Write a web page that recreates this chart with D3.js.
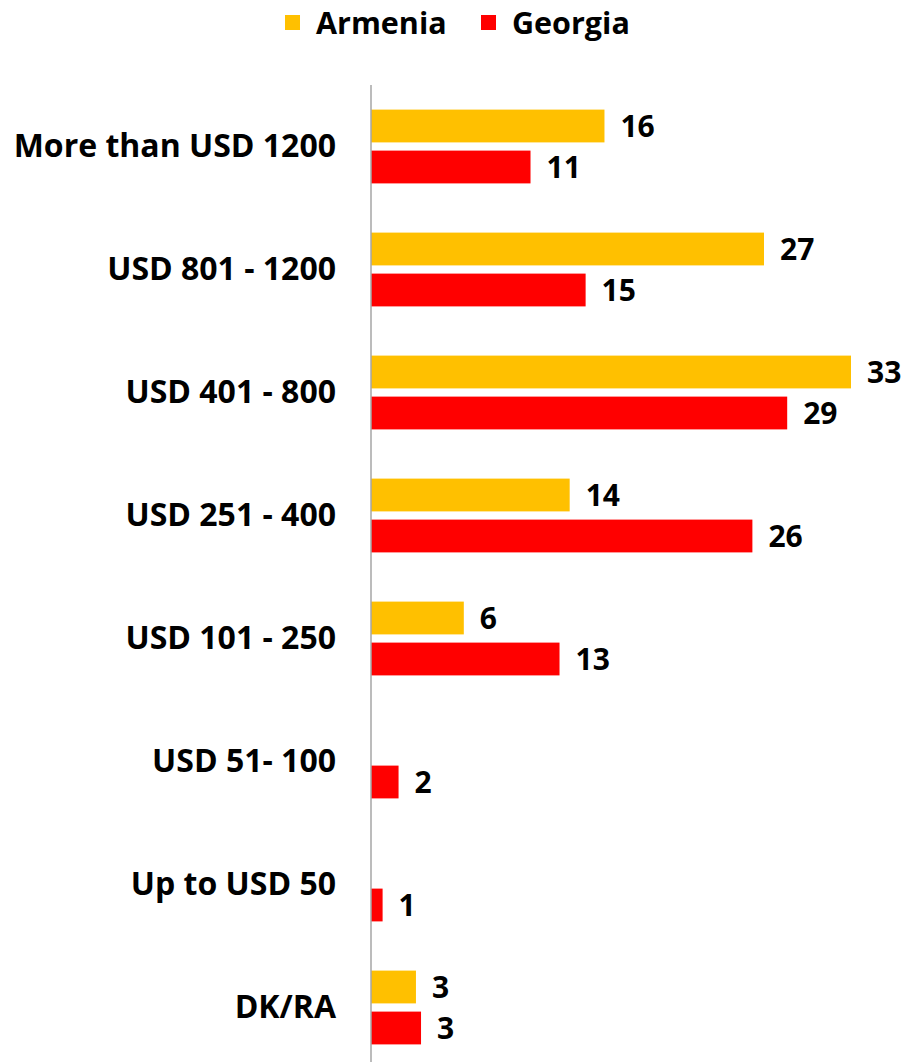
<!DOCTYPE html>
<html lang="en">
<head>
    <meta charset="UTF-8">
    <title>Income distribution, Armenia and Georgia</title>
    <script src="https://d3js.org/d3.v7.min.js"></script>
    <style>
        body {
            margin: 0;
            padding: 0;
            background: #fff;
            font-family: "Open Sans", Arial, sans-serif;
        }
        svg text {
            font-weight: bold;
            fill: #000;
        }
    </style>
</head>
<body>
    <svg id="chart"></svg>

    <script>
        // Data (bar lengths, labels are rounded)
        const categories = ["More than USD 1200", "USD 801 - 1200", "USD 401 - 800", "USD 251 - 400",
            "USD 101 - 250", "USD 51- 100", "Up to USD 50", "DK/RA"];
        const series = ["Armenia", "Georgia"];
        const armenia = [16.1, 27.1, 33.1, 13.7, 6.4, null, null, 3.1];
        const georgia = [11.0, 14.8, 28.7, 26.3, 13.0, 1.9, 0.8, 3.45];

        const colors = { "Armenia": "#ffc000", "Georgia": "#ff0000" };

        const W = 903, H = 1062;
        const axisX = 371;

        const svg = d3.select("#chart")
            .attr("width", W)
            .attr("height", H);

        // Scales
        const x = d3.scaleLinear()
            .domain([0, 33.1])
            .range([axisX, 851]);

        const y0 = d3.scaleBand()
            .domain(categories)
            .range([85, 1069])
            .paddingInner(0.4)
            .paddingOuter(0.2);

        const y1 = d3.scaleBand()
            .domain(series)
            .range([0, y0.bandwidth()])
            .paddingInner(0.2)
            .paddingOuter(0);

        const rows = categories.map((c, i) => ({
            cat: c,
            values: [
                { key: "Armenia", value: armenia[i] },
                { key: "Georgia", value: georgia[i] }
            ].filter(d => d.value != null)
        }));

        // Bars
        const groups = svg.selectAll(".group")
            .data(rows)
            .enter()
            .append("g")
            .attr("class", "group")
            .attr("transform", d => `translate(0,${y0(d.cat)})`);

        groups.selectAll("rect")
            .data(d => d.values)
            .enter()
            .append("rect")
            .attr("x", x(0))
            .attr("y", d => y1(d.key))
            .attr("width", d => x(d.value) - x(0))
            .attr("height", y1.bandwidth())
            .attr("fill", d => colors[d.key]);

        groups.selectAll(".val")
            .data(d => d.values)
            .enter()
            .append("text")
            .attr("class", "val")
            .attr("x", d => x(d.value) + 16)
            .attr("y", d => y1(d.key) + y1.bandwidth() / 2)
            .attr("dy", "0.36em")
            .style("font-size", "30px")
            .text(d => Math.round(d.value));

        // Category axis
        const yAxis = svg.append("g")
            .attr("transform", `translate(${axisX},0)`)
            .call(d3.axisLeft(y0).tickSize(0).tickPadding(35));
        yAxis.select(".domain").remove();
        yAxis.selectAll("text")
            .style("font-family", "'Open Sans', Arial, sans-serif")
            .style("font-size", "32px")
            .style("font-weight", "bold")
            .attr("fill", "#000");

        svg.append("line")
            .attr("x1", axisX).attr("x2", axisX)
            .attr("y1", 85).attr("y2", H)
            .attr("stroke", "#a6a6a6")
            .attr("stroke-width", 1.5);

        // Legend
        const legend = svg.append("g").attr("class", "legend");
        const legendX = [285, 481];
        series.forEach((s, i) => {
            legend.append("rect")
                .attr("x", legendX[i])
                .attr("y", 15)
                .attr("width", 15)
                .attr("height", 15)
                .attr("fill", colors[s]);
            legend.append("text")
                .attr("x", legendX[i] + 31)
                .attr("y", 23)
                .attr("dy", "0.36em")
                .style("font-size", "30.5px")
                .text(s);
        });
    </script>
</body>
</html>
